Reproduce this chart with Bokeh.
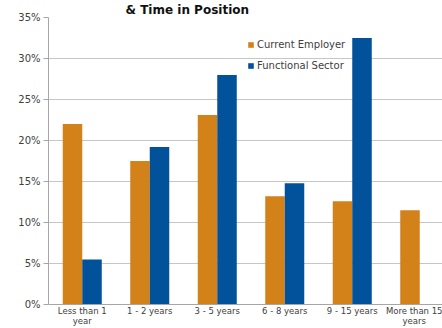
from bokeh.plotting import figure
from bokeh.models import (ColumnDataSource, Range1d, FixedTicker, PrintfTickFormatter,
                          Legend, LegendItem)
from bokeh.transform import dodge
from bokeh.embed import file_html
from bokeh.resources import INLINE

# Tenure categories and the share of respondents in each (percent)
categories = ["Less than 1\nyear", "1 - 2 years", "3 - 5 years", "6 - 8 years",
              "9 - 15 years", "More than 15\nyears"]
current_employer = [22.0, 17.5, 23.1, 13.2, 12.6, 11.5]
functional_sector = [5.5, 19.2, 28.0, 14.8, 32.5, 0.0]
y_ticks = [0, 5, 10, 15, 20, 25, 30, 35]

ORANGE = "#D3821A"
BLUE = "#02529B"
TEXT = "#404040"
FONT = "DejaVu Sans"

centers = [i + 0.5 for i in range(len(categories))]
src = ColumnDataSource(dict(x=centers, ce=current_employer, fs=functional_sector))

p = figure(width=442, height=328, output_backend="svg", toolbar_location=None,
           x_range=Range1d(0, 5.837), y_range=Range1d(0, 35),
           min_border_left=48, min_border_right=0, min_border_top=17,
           min_border_bottom=24)
p.outline_line_color = None
p.background_fill_color = "white"

# title line, set close to the top of the chart
p.title.text = "& Time in Position"
p.title.align = "left"
p.title.offset = 77
p.title.standoff = 1
p.title.text_font = FONT
p.title.text_font_size = "12px"
p.title.text_font_style = "bold"
p.title.text_color = "#111111"

bw = 0.289
r_ce = p.vbar(x=dodge("x", -bw / 2, range=p.x_range), top="ce", width=bw,
              source=src, fill_color=ORANGE, line_color=None)
r_fs = p.vbar(x=dodge("x", bw / 2, range=p.x_range), top="fs", width=bw,
              source=src, fill_color=BLUE, line_color=None)

# y axis
p.yaxis.ticker = FixedTicker(ticks=y_ticks)
p.yaxis.formatter = PrintfTickFormatter(format="%d%%")
p.yaxis.axis_line_color = "#A6A6A6"
p.yaxis.major_tick_line_color = "#A6A6A6"
p.yaxis.major_tick_out = 5
p.yaxis.major_tick_in = 0
p.yaxis.minor_tick_line_color = None
p.yaxis.major_label_text_font = FONT
p.yaxis.major_label_text_font_size = "10px"
p.yaxis.major_label_text_color = TEXT
p.yaxis.major_label_standoff = 3

# x axis
p.xaxis.ticker = FixedTicker(ticks=centers)
p.xaxis.major_label_overrides = {c: lab for c, lab in zip(centers, categories)}
p.xaxis.axis_line_color = "#A6A6A6"
p.xaxis.major_tick_line_color = None
p.xaxis.major_tick_out = 0
p.xaxis.major_tick_in = 0
p.xaxis.minor_tick_line_color = None
p.xaxis.minor_tick_out = 0
p.xaxis.minor_tick_in = 0
p.xaxis.major_label_text_font = FONT
p.xaxis.major_label_text_font_size = "8.5px"
p.xaxis.major_label_text_line_height = 1.0
p.xaxis.major_label_text_color = TEXT
p.xaxis.major_label_standoff = 1

p.xgrid.grid_line_color = None
p.ygrid.ticker = FixedTicker(ticks=y_ticks[1:])
p.ygrid.grid_line_color = "#C6C6C6"

legend = Legend(items=[LegendItem(label="Current Employer", renderers=[r_ce]),
                       LegendItem(label="Functional Sector", renderers=[r_fs])],
                location=(199, 233), padding=0, margin=0, spacing=10,
                glyph_width=7, glyph_height=7, label_standoff=3,
                label_text_font=FONT, label_text_font_size="10px",
                label_text_color=TEXT, background_fill_alpha=0,
                border_line_alpha=0)
p.add_layout(legend, "center")

open("out.html", "w").write(file_html(p, INLINE))
